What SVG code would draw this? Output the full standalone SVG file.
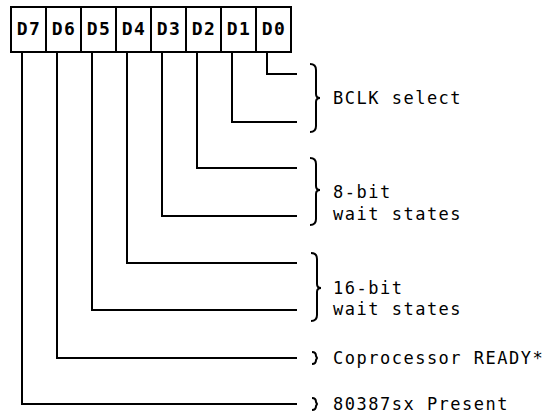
<svg xmlns="http://www.w3.org/2000/svg" width="547" height="414" viewBox="0 0 547 414">
<style>
.cell{fill:#fff;stroke:#000;stroke-width:2}
.bit{font-family:"DejaVu Sans Mono","Liberation Mono",monospace;font-weight:bold;font-size:18px;letter-spacing:1.5px;text-anchor:middle;fill:#000}
.lbl{font-family:"DejaVu Sans Mono","Liberation Mono",monospace;font-size:17px;letter-spacing:1.5px;fill:#000}
.wire{fill:none;stroke:#000;stroke-width:2}
.brace{fill:none;stroke:#000;stroke-width:2}
</style>
<rect width="547" height="414" fill="#fff"/>
<g id="register">
<g id="bit-D7"><rect class="cell" x="11" y="7" width="35" height="45"/><text class="bit" x="29" y="35">D7</text></g>
<g id="bit-D6"><rect class="cell" x="46" y="7" width="35" height="45"/><text class="bit" x="64" y="35">D6</text></g>
<g id="bit-D5"><rect class="cell" x="81" y="7" width="35" height="45"/><text class="bit" x="99" y="35">D5</text></g>
<g id="bit-D4"><rect class="cell" x="116" y="7" width="35" height="45"/><text class="bit" x="134" y="35">D4</text></g>
<g id="bit-D3"><rect class="cell" x="151" y="7" width="35" height="45"/><text class="bit" x="169" y="35">D3</text></g>
<g id="bit-D2"><rect class="cell" x="186" y="7" width="35" height="45"/><text class="bit" x="204" y="35">D2</text></g>
<g id="bit-D1"><rect class="cell" x="221" y="7" width="35" height="45"/><text class="bit" x="239" y="35">D1</text></g>
<g id="bit-D0"><rect class="cell" x="256" y="7" width="35" height="45"/><text class="bit" x="274" y="35">D0</text></g>
</g>
<g id="connectors">
<path class="wire" d="M267,52 V74 H297"/>
<path class="wire" d="M232,52 V122 H297"/>
<path class="wire" d="M197,52 V168 H297"/>
<path class="wire" d="M162,52 V216 H297"/>
<path class="wire" d="M127,52 V263 H297"/>
<path class="wire" d="M92,52 V310 H297"/>
<path class="wire" d="M57,52 V358 H297"/>
<path class="wire" d="M22,52 V404 H297"/>
</g>
<g id="bclk-select">
<path class="brace" d="M310,64 Q316,64 316,70 L316,94 Q316,98 320,98 Q316,98 316,102 L316,126 Q316,132 310,132"/>
<text class="lbl" x="333" y="104">BCLK select</text>
</g>
<g id="wait-8bit">
<path class="brace" d="M310,158 Q316,158 316,164 L316,186 Q316,190 320,190 Q316,190 316,194 L316,219 Q316,225 310,225"/>
<text class="lbl" x="333" y="198">8-bit</text>
<text class="lbl" x="333" y="220">wait states</text>
</g>
<g id="wait-16bit">
<path class="brace" d="M311,253 Q317,253 317,259 L317,284 Q317,288 321,288 Q317,288 317,292 L317,315 Q317,321 311,321"/>
<text class="lbl" x="333" y="294">16-bit</text>
<text class="lbl" x="333" y="315">wait states</text>
</g>
<g id="coprocessor-ready">
<path class="brace" d="M312,352 Q316,352 316,356 L317,358 L316,360 Q316,364 312,364"/>
<text class="lbl" x="333" y="364">Coprocessor READY*</text>
</g>
<g id="present-80387sx">
<path class="brace" d="M312,398 Q316,398 316,402 L317,404 L316,406 Q316,410 312,410"/>
<text class="lbl" x="333" y="410">80387sx Present</text>
</g>
</svg>
